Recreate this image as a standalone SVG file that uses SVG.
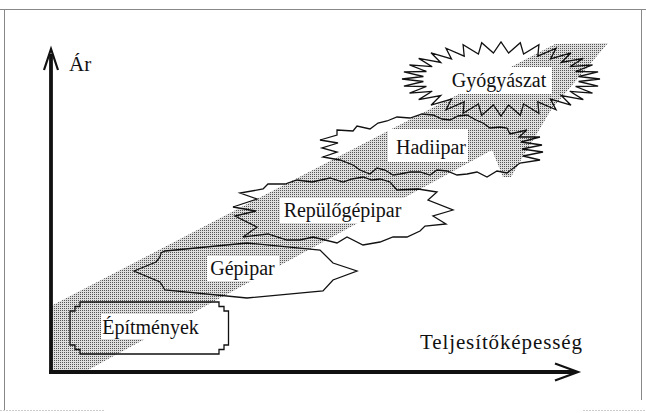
<svg xmlns="http://www.w3.org/2000/svg" width="646" height="413" viewBox="0 0 646 413">
<defs>
<pattern id="dots" width="2" height="2" patternUnits="userSpaceOnUse">
<rect width="2" height="2" fill="#dedede"/>
<rect width="1" height="1" fill="#555"/>
</pattern>
</defs>
<style>
.frame{stroke:#888;stroke-width:1;fill:none}
.shape{fill:none;stroke:#111;stroke-width:1.3;stroke-linejoin:miter}
.bg{fill:#fff}
.lbl{font-family:"Liberation Serif","Times New Roman",serif;font-size:20px;fill:#111;text-anchor:middle}
.axis{stroke:#111;stroke-width:3.8;fill:none}
.head{stroke:#111;stroke-width:2.2;fill:none;stroke-linejoin:miter}
</style>
<rect width="646" height="413" fill="#fff"/>
<g id="frame">
<line class="frame" x1="0" y1="9.5" x2="646" y2="9.5"/>
<line class="frame" x1="4.5" y1="9" x2="4.5" y2="410"/>
<line class="frame" x1="641.5" y1="9" x2="641.5" y2="400"/>
<line x1="0" y1="410.5" x2="105" y2="410.5" stroke="#ccc" stroke-width="1" stroke-dasharray="2 1"/>
<line x1="583" y1="410.5" x2="646" y2="410.5" stroke="#ccc" stroke-width="1" stroke-dasharray="2 1"/>
</g>
<g id="band">
<polygon points="51,306 555,44 608,43 551,110 521,160 511,177 503,177 492,150 88,370 51,370" fill="url(#dots)"/>
</g>
<g id="connectors">
<line class="axis" x1="51" y1="372" x2="51" y2="54"/>
<polyline class="head" points="44,70 51,49 58,70"/>
<line class="axis" x1="49" y1="372" x2="576" y2="372"/>
<polyline class="head" points="555,363.5 578,372 555,380.5"/>
</g>
<g id="epitmenyek">
<polygon class="shape" points="80,302 219,302 219,306.5 224,306.5 224,311 228.5,311 228.5,345 224,345 224,349.5 219,349.5 219,354 80,354 80,349.5 75,349.5 75,345 70,345 70,311 75,311 75,306.5 80,306.5"/>
<rect class="bg" x="101" y="314" width="99" height="25"/>
<text class="lbl" x="150.5" y="334">Építmények</text>
</g>
<g id="gepipar">
<polygon class="shape" points="134,271 156,262 160,257 161,253 165,251 247,243 320,250 333,263 357,271 333,280 323,291 247,298 165,290 160,282"/>
<rect class="bg" x="207" y="256" width="72" height="25"/>
<text class="lbl" x="242.5" y="275">Gépipar</text>
</g>
<g id="repulogepipar">
<polygon class="shape" points="263,189 268,184 285,184 297,180 312,182 330,178 343,182 352,179 363,177 372,180 380,179 390,182 397,190 418,189 437,192 428,200 453,210 433,216 446,224 425,226 420,231 407,237 393,237 380,242 363,245 347,237 337,243 313,237 300,240 287,240 268,234 243,237 257,227 235,216 256,211 233,207 257,199 240,193"/>
<rect class="bg" x="280" y="198" width="125" height="25"/>
<text class="lbl" x="342.5" y="216.5">Repülőgépipar</text>
</g>
<g id="hadiipar">
<polygon class="shape" points="337,130 353,131 357,126 370,129 378,123 387,121 397,117 410,118 422,114 433,115 442,119 450,120 458,116 467,115 476,120 483,123 490,128 500,127 507,128 510,134 527,130 519,137 540,137 521,142 542,145 522,149 543,152 523,156 540,160 520,163 507,173 497,171 487,177 477,172 467,174 457,175 447,171 437,170 430,175 420,172 410,172 400,174 393,175 385,170 377,168 370,174 360,170 353,165 340,160 323,157 337,152 322,148 338,143 320,140 337,135"/>
<rect class="bg" x="388" y="129" width="80" height="33"/>
<text class="lbl" x="431" y="154">Hadiipar</text>
</g>
<g id="gyogyaszat">
<polygon class="shape" points="600,79 578.6,81.5 598.1,86.2 575.6,86.5 592.5,93.2 569.8,91.3 583.3,99.6 561.3,95.5 571,105.2 550.5,99.1 556,109.8 537.8,101.9 538.9,113.2 523.6,103.9 520.3,115.3 508.6,104.9 501,116 493.4,104.9 481.7,115.3 478.4,103.9 463.1,113.2 464.2,101.9 446,109.8 451.5,99.1 431,105.2 440.7,95.5 418.7,99.6 432.2,91.3 409.5,93.2 426.4,86.5 403.9,86.2 423.4,81.5 402,79 423.4,76.5 403.9,71.8 426.4,71.5 409.5,64.8 432.2,66.7 418.7,58.4 440.7,62.5 431,52.8 451.5,58.9 446,48.2 464.2,56.1 463.1,44.8 478.4,54.1 481.7,42.7 493.4,53.1 501,42 508.6,53.1 520.3,42.7 523.6,54.1 538.9,44.8 537.8,56.1 556,48.2 550.5,58.9 571,52.8 561.3,62.5 583.3,58.4 569.8,66.7 592.5,64.8 575.6,71.5 598.1,71.8 578.6,76.5"/>
<rect class="bg" x="447" y="67" width="105" height="27"/>
<text class="lbl" x="499" y="87">Gyógyászat</text>
</g>
<g id="labels">
<text x="69" y="71" style="font-family:'Liberation Serif','Times New Roman',serif;font-size:21px;fill:#111">Ár</text>
<text x="420" y="348.5" textLength="162" lengthAdjust="spacing" style="font-family:'Liberation Serif','Times New Roman',serif;font-size:21px;fill:#111">Teljesítőképesség</text>
</g>
</svg>
